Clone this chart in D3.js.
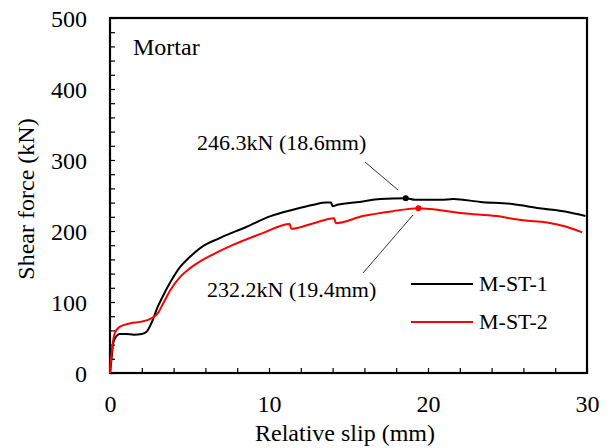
<!DOCTYPE html>
<html>
<head>
<meta charset="utf-8">
<script src="https://cdn.jsdelivr.net/npm/d3@7"></script>
<style>
  body { margin: 0; background: #fff; }
  svg { display: block; font-family: "Liberation Serif", "Times New Roman", serif; }
</style>
</head>
<body>
<svg width="608" height="448"></svg>
<script>
// M-ST-1 (black)
const slip1 = [0, 0.1, 0.2, 0.4, 0.6, 1.0, 1.5, 2.0, 2.3, 2.6, 3.0, 3.3, 3.8, 4.4, 5.0, 5.8, 6.9, 8.6, 10.1, 11.5, 12.8, 13.6, 13.9, 14.0, 14.3, 15.7, 17.0, 18.6, 19.2, 19.5, 20.8, 21.6, 23.3, 25.3, 27.0, 28.7, 29.9];
const force1 = [0, 21, 42, 52, 55, 55, 54, 55, 58, 70, 93, 107, 128, 149, 163, 178, 190, 206, 221, 230, 237, 240, 240, 235, 237, 241, 245, 246.3, 244, 244, 244, 245, 241, 238, 232, 227, 221];
// M-ST-2 (red)
const slip2 = [0, 0.1, 0.3, 0.6, 1.3, 1.9, 2.6, 3.0, 3.3, 3.8, 4.4, 5.0, 5.8, 6.3, 7.7, 9.6, 11.3, 11.4, 12.8, 14.1, 14.2, 15.9, 17.8, 19.4, 20.1, 22.2, 24.3, 26.0, 27.5, 28.7, 29.7];
const force2 = [0, 28, 56, 65, 70, 72, 77, 84, 96, 117, 135, 147, 159, 165, 180, 197, 210, 203, 211, 218, 211, 221, 228, 232.2, 231, 225, 221, 215, 212, 206, 198];

const seriesNames = ['M-ST-1', 'M-ST-2'];
const seriesColors = ['#000000', '#ff0000'];
const peaks = [
  { slip: 18.6, force: 246.3, label: '246.3kN (18.6mm)' },
  { slip: 19.4, force: 232.2, label: '232.2kN (19.4mm)' },
];
const xTicks = [0, 10, 20, 30];
const yTicks = [0, 100, 200, 300, 400, 500];

const svg = d3.select('svg');
const plotLeft = 110, plotRight = 587, plotTop = 18, plotBottom = 373;

const x = d3.scaleLinear().domain([0, 30]).range([plotLeft, plotRight]);
const y = d3.scaleLinear().domain([0, 500]).range([plotBottom, plotTop]);

// minor ticks, inside
const minorX = d3.range(0, 30.01, 2);
const minorY = d3.range(0, 500.01, 20);
svg.append('g')
  .attr('transform', `translate(0,${plotBottom})`)
  .call(d3.axisBottom(x).tickValues(minorX).tickSize(-5).tickFormat(''))
  .call(g => g.select('.domain').remove())
  .selectAll('line').attr('stroke', '#000').attr('stroke-width', 1.2);
svg.append('g')
  .attr('transform', `translate(${plotLeft},0)`)
  .call(d3.axisLeft(y).tickValues(minorY).tickSize(-5).tickFormat(''))
  .call(g => g.select('.domain').remove())
  .selectAll('line').attr('stroke', '#000').attr('stroke-width', 1.2);

// tick labels
svg.append('g')
  .attr('transform', `translate(0,${plotBottom})`)
  .call(d3.axisBottom(x).tickValues(xTicks).tickSize(0).tickPadding(0))
  .call(g => g.select('.domain').remove())
  .selectAll('text')
  .attr('y', 39).attr('dy', 0)
  .attr('font-size', 24).attr('font-family', 'Liberation Serif').attr('fill', '#000');
svg.append('g')
  .attr('transform', `translate(${plotLeft},0)`)
  .call(d3.axisLeft(y).tickValues(yTicks).tickSize(0).tickPadding(0))
  .call(g => g.select('.domain').remove())
  .selectAll('text')
  .attr('x', -23).attr('dy', '0.35em')
  .attr('font-size', 24).attr('font-family', 'Liberation Serif').attr('fill', '#000');

// frame
svg.append('rect')
  .attr('x', plotLeft).attr('y', plotTop)
  .attr('width', plotRight - plotLeft).attr('height', plotBottom - plotTop)
  .attr('fill', 'none').attr('stroke', '#000').attr('stroke-width', 2.2);

const line = d3.line().x(d => x(d[0])).y(d => y(d[1])).curve(d3.curveMonotoneX);
const series = [d3.zip(slip1, force1), d3.zip(slip2, force2)];

series.forEach((pts, i) => {
  svg.append('path')
    .datum(pts)
    .attr('d', line)
    .attr('fill', 'none')
    .attr('stroke', seriesColors[i])
    .attr('stroke-width', 2);
});

// peaks + leaders
peaks.forEach((p, i) => {
  svg.append('circle')
    .attr('cx', x(p.slip)).attr('cy', y(p.force)).attr('r', 3)
    .attr('fill', seriesColors[i]);
});
svg.append('line')
  .attr('x1', 365).attr('y1', 162).attr('x2', 398).attr('y2', 190)
  .attr('stroke', '#000').attr('stroke-width', 0.8);
svg.append('line')
  .attr('x1', 413).attr('y1', 215).attr('x2', 363).attr('y2', 273)
  .attr('stroke', '#000').attr('stroke-width', 0.8);
svg.append('text').attr('x', 197).attr('y', 150)
  .attr('font-size', 22).text(peaks[0].label);
svg.append('text').attr('x', 207).attr('y', 297)
  .attr('font-size', 22).text(peaks[1].label);

// legend
seriesNames.forEach((name, i) => {
  const ly = 284 + i * 38;
  svg.append('line')
    .attr('x1', 411).attr('x2', 473).attr('y1', ly).attr('y2', ly)
    .attr('stroke', seriesColors[i]).attr('stroke-width', 2.2);
  svg.append('text').attr('x', 479).attr('y', ly + 7)
    .attr('font-size', 22).text(name);
});

svg.append('text').attr('x', 133).attr('y', 55)
  .attr('font-size', 24).text('Mortar');

// axis titles
svg.append('text')
  .attr('x', 345).attr('y', 441).attr('text-anchor', 'middle')
  .attr('font-size', 24).text('Relative slip (mm)');
svg.append('text')
  .attr('transform', 'translate(34,199) rotate(-90)')
  .attr('text-anchor', 'middle')
  .attr('font-size', 24).text('Shear force (kN)');
</script>
</body>
</html>
